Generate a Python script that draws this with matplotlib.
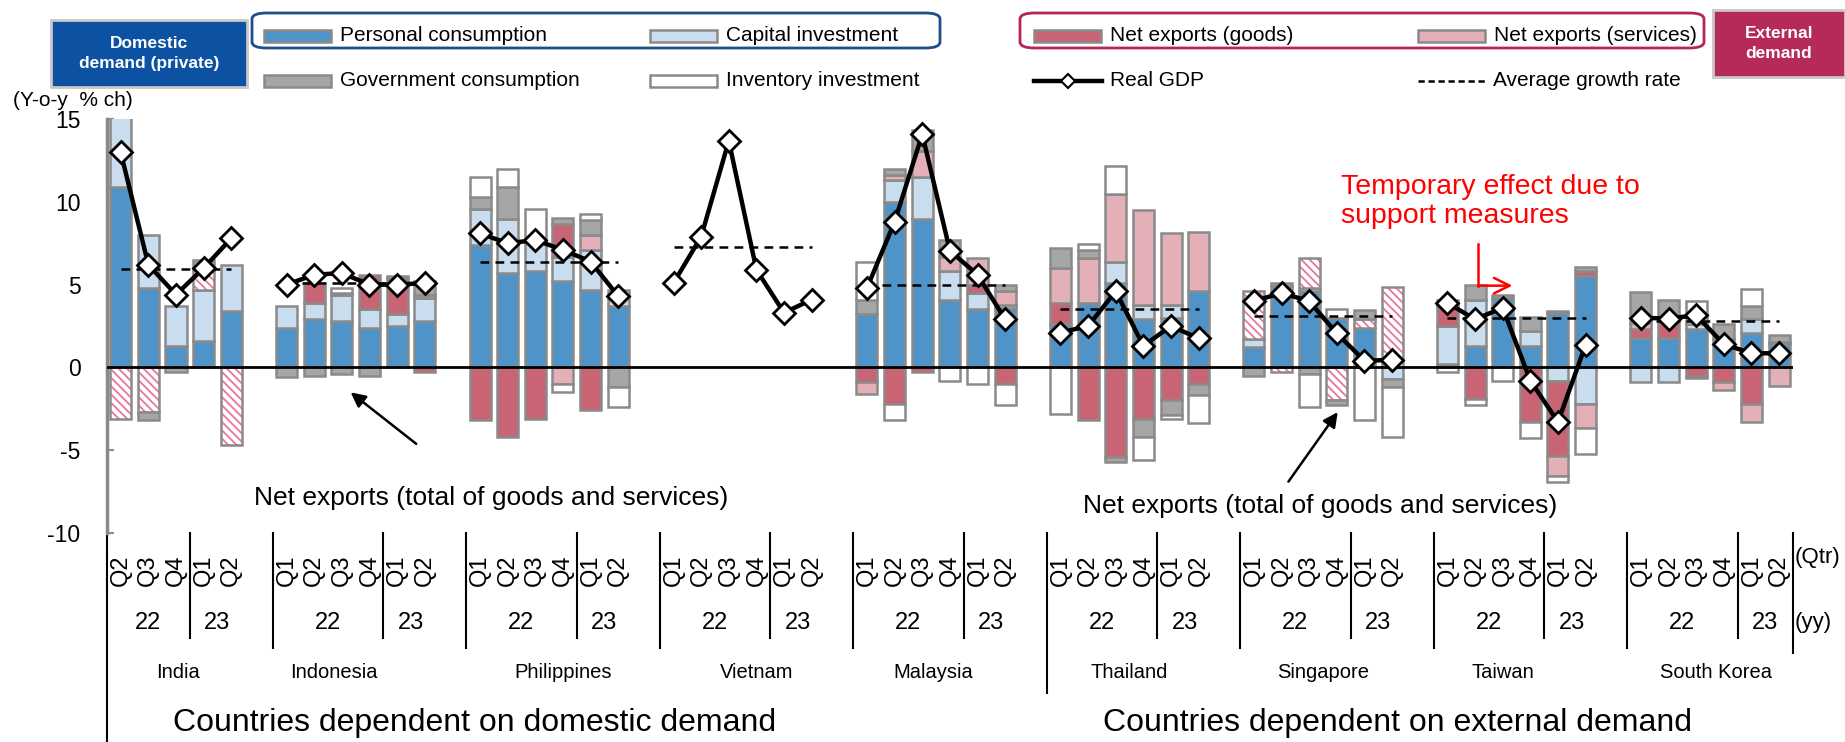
import numpy as np
from matplotlib import pyplot as plt
from matplotlib import rc
from matplotlib.patches import Rectangle, FancyBboxPatch
from matplotlib.lines import Line2D

rc('font', family=['Liberation Sans', 'DejaVu Sans'])
rc('hatch', linewidth=1.3)
rc('axes', unicode_minus=False)

W, H = 1845, 742

countries = ['India', 'Indonesia', 'Philippines', 'Vietnam', 'Malaysia',
             'Thailand', 'Singapore', 'Taiwan', 'South Korea']
quarters = [['Q2', 'Q3', 'Q4', 'Q1', 'Q2']] + [['Q1', 'Q2', 'Q3', 'Q4', 'Q1', 'Q2']] * 8
n22 = [3] + [4] * 8          # quarters belonging to 2022 in each group
name_x = [2.06, 7.7, 16.0, 23.0, 29.4, 36.5, 43.5, 50.0, 57.7]   # label centres

# contributions, % points (order: India, Indonesia, Philippines, Vietnam,
# Malaysia, Thailand, Singapore, Taiwan, South Korea)
personal = [10.9, 4.8, 1.3, 1.6, 3.4,
            2.4, 2.9, 2.8, 2.4, 2.5, 2.8,
            7.4, 5.7, 5.8, 5.2, 4.7, 3.7,
            0, 0, 0, 0, 0, 0,
            3.2, 10.0, 9.0, 4.1, 3.5, 3.6,
            2.6, 3.9, 5.1, 2.9, 3.0, 4.6,
            1.2, 4.9, 4.6, 3.0, 2.4, 0.0,
            0.2, 1.3, 4.2, 1.3, 3.3, 5.5,
            1.8, 1.8, 2.3, 1.7, 2.1, 1.4]
capital = [4.6, 3.2, 2.4, 3.1, 2.8,
           1.3, 1.0, 1.6, 1.1, 0.7, 1.4,
           2.2, 3.3, 1.7, 1.45, 2.4, 1.0,
           0, 0, 0, 0, 0, 0,
           0, 1.3, 2.5, 1.7, 1.0, 0.2,
           0, 0, 1.3, 0.9, 0.8, 0,
           0.5, 0, 0.2, 0, 0, -0.7,
           2.3, 2.8, 0, 0.9, -0.85, -2.2,
           -0.9, -0.9, 0.3, 0, 0.8, 0.15]
nx_goods = [0, 0, 0, 0, 0,
            0, 1.2, 0.1, 2.1, 2.2, -0.3,
            -3.2, -4.2, -3.1, 2.0, -2.6, 0,
            0, 0, 0, 0, 0, 0,
            -0.9, -2.2, -0.3, 0, 0.5, -1.0,
            1.3, -3.2, -5.4, -3.1, -2.0, -1.0,
            0, 0, 0, 0, 0, 0,
            1.2, -1.9, 0, -3.3, -4.5, 0.3,
            0.5, 1.0, -0.5, -0.9, -2.2, 0]
nx_services = [0, 0, 0, 0, 0,
               0, 0, 0, 0, 0, 0.2,
               0, 0, 0, -1.0, 0.9, 0,
               0, 0, 0, 0, 0, 0,
               -0.7, 0.35, 1.6, 0.9, 1.6, 0.8,
               2.1, 2.7, 4.1, 5.7, 4.3, 3.6,
               0, 0, 0, 0, 0, 0,
               0, 0, 0, 0, -1.2, -1.45,
               0.4, 0, 0, -0.45, -1.1, -1.15]
nx_total = [-3.1, -2.7, 0, 1.2, -4.7,
            0, 0, 0, 0, 0, 0,
            0, 0, 0, 0, 0, 0,
            0, 0, 0, 0, 0, 0,
            0, 0, 0, 0, 0, 0,
            0, 0, 0, 0, 0, 0,
            2.9, -0.3, 1.8, -2.0, 0.5, 4.85,
            0, 0, 0, 0, 0, 0,
            0, 0, 0, 0, 0, 0]
government = [0.6, -0.5, -0.3, 0.6, 0,
              -0.6, -0.5, -0.4, -0.5, 0.1, 0.8,
              0.7, 1.9, 0, 0.4, 0.9, -1.2,
              0, 0, 0, 0, 0, 0,
              0.9, 0.35, 1.25, 1.0, 0, 0.35,
              1.2, 0.5, -0.3, -1.1, -0.9, -0.65,
              -0.5, 0.2, -0.4, -0.25, 0.55, -0.5,
              0.4, 0.9, 0.2, 0.85, 0.1, 0.25,
              1.85, 1.25, -0.15, 0.9, 0.8, 0.4]
inventory = [0, 0, 0, 0, 0,
             0, 0, 0.3, 0, 0, 0,
             1.2, 1.1, 2.1, -0.5, 0.4, -1.2,
             0, 0, 0, 0, 0, 0,
             2.3, -1.0, 0, -0.8, -1.0, -1.25,
             -2.8, 0.35, 1.7, -1.4, -0.2, -1.7,
             0, 0, -2.0, 0.5, -3.2, -3.0,
             -0.3, -0.35, -0.85, -1.0, -0.4, -1.6,
             0, 0, 1.4, 0, 1.05, 0]
real_gdp = [13.0, 6.2, 4.4, 6.0, 7.8,
            5.0, 5.6, 5.7, 5.0, 5.0, 5.1,
            8.1, 7.5, 7.7, 7.1, 6.4, 4.3,
            5.1, 7.9, 13.7, 5.9, 3.3, 4.1,
            4.8, 8.8, 14.1, 7.05, 5.6, 2.9,
            2.1, 2.5, 4.6, 1.3, 2.5, 1.75,
            4.0, 4.5, 4.0, 2.05, 0.4, 0.45,
            3.9, 2.9, 3.6, -0.8, -3.3, 1.35,
            3.0, 2.95, 3.15, 1.4, 0.85, 0.85]
avg_growth = [5.95, 5.1, 6.4, 7.3, 5.0, 3.5, 3.1, 3.0, 2.8]

C_PC, C_CI, C_GC, C_INV = '#4f94c9', '#c9ddee', '#a6a6a6', 'white'
C_NXG, C_NXS, C_HATCH = '#c86473', '#e4b0b8', '#e8779b'
EDGE = '#8a8a8a'

# x positions: one empty slot between countries
xs, groups, pos = [], [], 0
for q in quarters:
    groups.append(np.arange(pos, pos + len(q)))
    xs.extend(range(pos, pos + len(q)))
    pos += len(q) + 1
xs = np.array(xs, dtype=float)

fig = plt.figure(figsize=(W / 100, H / 100), dpi=100)
ax = fig.add_axes([106.9 / W, 1 - 532.7 / H, (1792.9 - 106.9) / W, (532.7 - 119.3) / H])

series = [(personal, C_PC, None), (capital, C_CI, None), (nx_goods, C_NXG, None),
          (nx_services, C_NXS, None), (nx_total, 'white', 'hatch'),
          (government, C_GC, None), (inventory, C_INV, None)]
bw = 0.76
pos_base = np.zeros(len(xs))
neg_base = np.zeros(len(xs))
for vals, col, kind in series:
    v = np.array(vals, dtype=float)
    base = np.where(v >= 0, pos_base, neg_base)
    m = v != 0
    if kind == 'hatch':
        ax.bar(xs[m], v[m], bw, bottom=base[m], color='white', edgecolor=C_HATCH,
               hatch='\\\\\\\\', linewidth=0, zorder=2)
        ax.bar(xs[m], v[m], bw, bottom=base[m], fill=False, edgecolor=EDGE,
               linewidth=1.8, zorder=2)
    else:
        ax.bar(xs[m], v[m], bw, bottom=base[m], color=col, edgecolor=EDGE,
               linewidth=1.8, zorder=2)
    pos_base += np.where(v > 0, v, 0)
    neg_base += np.where(v < 0, v, 0)

ax.axhline(0, color='black', lw=2, zorder=3)

start = 0
for g in groups:
    gx = xs[start:start + len(g)]
    gy = real_gdp[start:start + len(g)]
    ax.plot(gx, gy, color='black', lw=3.2, marker='D', ms=11, mfc='white',
            mec='black', mew=2, zorder=5)
    start += len(g)
for g, a in zip(groups, avg_growth):
    ax.plot([g[0], g[-1]], [a, a], color='black', lw=1.8, ls=(0, (3.5, 2.5)), zorder=4)

ax.set_xlim(-0.5, 60.5)
ax.set_ylim(-10, 15)
ax.set_yticks([-10, -5, 0, 5, 10, 15])
ax.tick_params(axis='y', direction='in', length=5, width=1.5, color=EDGE,
               labelsize=16.5, pad=19)
ax.set_xticks([])
for s in ['top', 'right', 'bottom']:
    ax.spines[s].set_visible(False)
ax.spines['left'].set_color(EDGE)
ax.spines['left'].set_linewidth(2.5)

# category axis below the plot
tx = ax.get_xaxis_transform()
for g, q, ny in zip(groups, quarters, n22):
    for x, lab in zip(g, q):
        ax.text(x, -0.09, lab, rotation=90, ha='center', va='center', fontsize=17,
                transform=tx, clip_on=False)
    ax.text((g[0] + g[ny - 1]) / 2, -0.218, '22', ha='center', va='center',
            fontsize=17, transform=tx)
    ax.text((g[ny] + g[-1]) / 2, -0.218, '23', ha='center', va='center',
            fontsize=17, transform=tx)
    ax.plot([g[ny] - 0.5] * 2, [0, -0.255], color='black', lw=1.5, transform=tx,
            clip_on=False)
for i, (g, c, nx) in enumerate(zip(groups, countries, name_x)):
    left = g[0] - 0.5 if i > 0 else -0.5
    bottom = -0.506 if i == 0 else (-0.388 if c == 'Thailand' else -0.279)
    ax.plot([left] * 2, [0, bottom], color='black', lw=1.5, transform=tx, clip_on=False)
    ax.text(nx, -0.339, c, ha='center', va='center', fontsize=14.5, transform=tx)
ax.plot([60.5] * 2, [0, -0.29], color='black', lw=1.5, transform=tx, clip_on=False)
ax.text(60.55, -0.059, '(Qtr)', ha='left', va='center', fontsize=16, transform=tx)
ax.text(60.55, -0.218, '(yy)', ha='left', va='center', fontsize=16, transform=tx)
ax.text(12.8, -0.46, 'Countries dependent on domestic demand', ha='center',
        va='center', fontsize=23, transform=tx)
ax.text(46.2, -0.46, 'Countries dependent on external demand', ha='center',
        va='center', fontsize=23, transform=tx)

# annotations
ax.text(13.4, -7.9, 'Net exports (total of goods and services)', ha='center',
        va='center', fontsize=19)
ax.annotate('', xy=(8.24, -1.41), xytext=(10.77, -4.73),
            arrowprops=dict(arrowstyle='-|>', color='black', lw=1.8, mutation_scale=22))
ax.text(43.4, -8.4, 'Net exports (total of goods and services)', ha='center',
        va='center', fontsize=19)
ax.annotate('', xy=(44.09, -2.57), xytext=(42.19, -7.05),
            arrowprops=dict(arrowstyle='-|>', color='black', lw=1.8, mutation_scale=22))
ax.text(44.15, 10.05, 'Temporary effect due to\nsupport measures', ha='left',
        va='center', fontsize=20.5, color='red', linespacing=1.15)
ax.plot([49.12, 49.12], [7.46, 4.94], color='red', lw=1.8, zorder=6)
ax.annotate('', xy=(50.45, 4.94), xytext=(49.05, 4.94),
            arrowprops=dict(arrowstyle='->', color='red', lw=1.8, mutation_scale=28))

fig.text(13 / W, 1 - 101 / H, '(Y-o-y  % ch)', ha='left', va='center', fontsize=15)


# legend, drawn in figure pixels
def fr(x0, y0, x1, y1):
    return (x0 / W, 1 - y1 / H), (x1 - x0) / W, (y1 - y0) / H


def add_rect(x0, y0, x1, y1, **kw):
    xy, w, h = fr(x0, y0, x1, y1)
    fig.add_artist(Rectangle(xy, w, h, transform=fig.transFigure, **kw))


def add_box(x0, y0, x1, y1, **kw):
    xy, w, h = fr(x0, y0, x1, y1)
    fig.add_artist(FancyBboxPatch(xy, w, h, boxstyle='round,pad=0,rounding_size=0.008',
                                  transform=fig.transFigure, **kw))


add_box(252, 13, 940, 48, facecolor='none', edgecolor='#1f4e8c', lw=2)
add_box(1020, 13, 1704, 48, facecolor='none', edgecolor='#b5245a', lw=2)
add_rect(51, 20, 247, 87, facecolor='#0d52a2', edgecolor='#c8c8c8', lw=2)
fig.text(149 / W, 1 - 53.5 / H, 'Domestic\ndemand (private)', ha='center', va='center',
         fontsize=12.5, color='white', fontweight='bold', linespacing=1.35)
add_rect(1713, 10, 1845, 77, facecolor='#b52a5b', edgecolor='#c8c8c8', lw=2)
fig.text(1779 / W, 1 - 43.5 / H, 'External\ndemand', ha='center', va='center',
         fontsize=12.5, color='white', fontweight='bold', linespacing=1.35)

leg = [(264, 35.5, C_PC, 'Personal consumption'),
       (650, 35.5, C_CI, 'Capital investment'),
       (264, 81, C_GC, 'Government consumption'),
       (650, 81, C_INV, 'Inventory investment'),
       (1034, 35.5, C_NXG, 'Net exports (goods)'),
       (1418, 35.5, C_NXS, 'Net exports (services)')]
for x0, yc, col, lab in leg:
    add_rect(x0, yc - 6, x0 + 67, yc + 6, facecolor=col, edgecolor=EDGE, lw=1.8)
    fig.text((x0 + 76) / W, 1 - yc / H, lab, ha='left', va='center', fontsize=15)

fig.add_artist(Line2D([1034 / W, 1102 / W], [1 - 81 / H] * 2, color='black', lw=3.2,
                      transform=fig.transFigure))
fig.add_artist(Line2D([1068 / W], [1 - 81 / H], marker='D', ms=7, mfc='white', mec='black',
                      mew=1.5, transform=fig.transFigure))
fig.text(1110 / W, 1 - 81 / H, 'Real GDP', ha='left', va='center', fontsize=15)
fig.add_artist(Line2D([1418 / W, 1485 / W], [1 - 81 / H] * 2, color='black', lw=1.8,
                      ls=(0, (2.5, 1.5)), transform=fig.transFigure))
fig.text(1493 / W, 1 - 81 / H, 'Average growth rate', ha='left', va='center', fontsize=15)

fig.savefig('out.png', dpi=100)
